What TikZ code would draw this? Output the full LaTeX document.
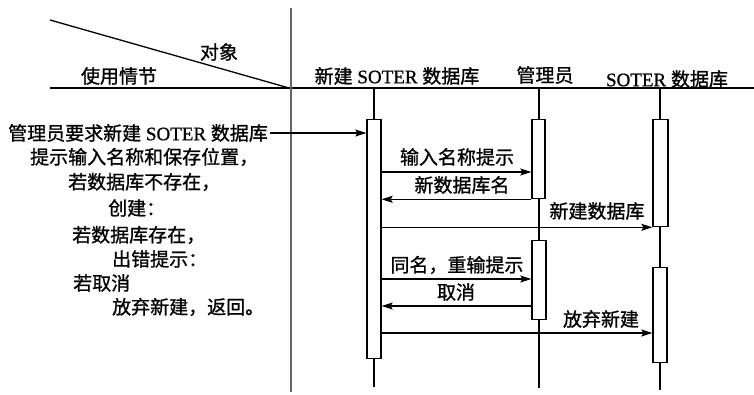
\documentclass[tikz,border=0pt]{standalone}
\usepackage{fontspec}
\setmainfont[RawFeature={embolden=0.8}]{Liberation Serif}
\newfontfamily\cjk[RawFeature={embolden=1}]{Noto Sans CJK SC}
\usetikzlibrary{arrows.meta}
\newcommand{\zh}[1]{{\cjk #1}}
\begin{document}
\begin{tikzpicture}[x=1pt,y=-1pt,
  every node/.style={inner sep=0pt,font=\fontsize{19}{22}\selectfont},
  lbl/.style={anchor=center},
  lft/.style={anchor=west},
  life/.style={line width=1.1pt},
  act/.style={draw,line width=1.3pt,fill=white,minimum width=14pt,anchor=north},
  msg/.style={line width=1.2pt,-{Stealth[length=11pt,width=7pt,inset=2pt]}},
  frame/.style={line width=1.8pt}]
\useasboundingbox (0,0) rectangle (754,395);
% header
\coordinate (dg0) at (50,20);
\coordinate (hl0) at (50,88);
\coordinate (corner) at (289,88);
\coordinate (hl1) at (754,88);
\coordinate (dv0) at (291,8);
\coordinate (dv1) at (291,392);
\draw[line width=1.3pt] (dg0) -- (corner);
\draw[frame] (hl0) -- (hl1);
\draw[line width=1.4pt,gray!80!black] (dv0) -- (dv1);
\node[lbl] (obj) at (219,52) {\zh{对象}};
\node[lbl] (scn) at (119,76) {\zh{使用情节}};
\node[lbl] (h1) at (397,76) {\zh{新建} SOTER \zh{数据库}};
\node[lbl] (h2) at (545,75) {\zh{管理员}};
\node[lbl] (h3) at (667,79) {SOTER \zh{数据库}};
% lifelines
\coordinate (l1t) at (374,88); \coordinate (l1b) at (374,387);
\coordinate (l2t) at (539,88); \coordinate (l2b) at (539,388);
\coordinate (l3t) at (660,88); \coordinate (l3b) at (660,390);
\draw[life] (l1t) -- (l1b);
\draw[life] (l2t) -- (l2b);
\draw[life] (l3t) -- (l3b);
% activation boxes
\node[act,minimum height=239pt] (A1) at (374,119) {};
\node[act,minimum height=79pt,minimum width=13pt] (M1) at (538.5,119) {};
\node[act,minimum height=79pt] (M2) at (539,240) {};
\node[act,minimum height=107pt,minimum width=15pt] (S1) at (660.5,119) {};
\node[act,minimum height=95pt] (S2) at (660,267) {};
% left texts
\node[lft] (r1) at (8,133) {\zh{管理员要求新建} SOTER \zh{数据库}};
\node[lft] (r2) at (30,157) {\zh{提示输入名称和保存位置，}};
\node[lft] (r3) at (68,182) {\zh{若数据库不存在，}};
\node[lft] (r4) at (108,208) {\zh{创建：}};
\node[lft] (r5) at (72,235) {\zh{若数据库存在，}};
\node[lft] (r6) at (112,259) {\zh{出错提示：}};
\node[lft] (r7) at (73,283) {\zh{若取消}};
\node[lft] (r8) at (112,307) {\zh{放弃新建，返回。}};
% messages
\draw[msg] ([xshift=2pt]r1.east) -- (r1.east -| A1.west);
\draw[msg] (A1.east |- 0,172) -- (M1.west |- 0,172);
\node[lbl] (m1) at (457,157) {\zh{输入名称提示}};
\draw[msg] (M1.south west) -- (A1.east |- M1.south west);
\node[lbl] (m2) at (462,185) {\zh{新数据库名}};
\draw[msg] (A1.east |- S1.south west) -- (S1.south west);
\node[lbl] (m3) at (597,211) {\zh{新建数据库}};
\draw[msg] (A1.east |- 0,279) -- (M2.west |- 0,279);
\node[lbl] (m4) at (457,265) {\zh{同名，重输提示}};
\draw[msg] (M2.west |- 0,306) -- (A1.east |- 0,306);
\node[lbl] (m5) at (456,292) {\zh{取消}};
\draw[msg] (A1.east |- 0,333) -- (S2.west |- 0,333);
\node[lbl] (m6) at (601,319) {\zh{放弃新建}};
\end{tikzpicture}
\end{document}
